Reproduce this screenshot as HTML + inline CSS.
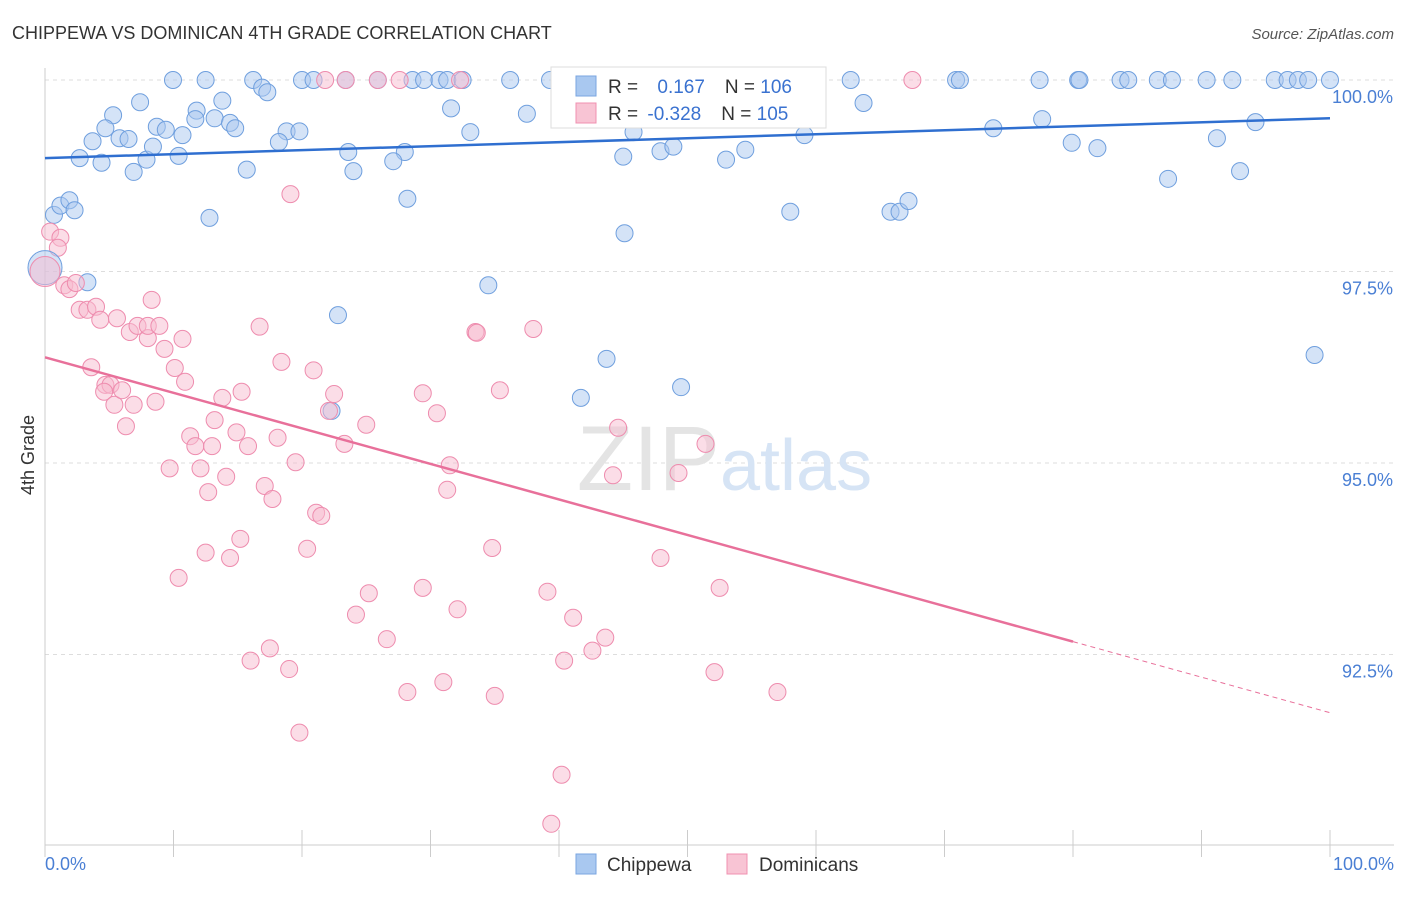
<!DOCTYPE html>
<html><head><meta charset="utf-8"><style>
body{margin:0;background:#fff;font-family:"Liberation Sans",sans-serif}
svg text{font-family:"Liberation Sans",sans-serif}
</style></head><body>
<svg id="chart" width="1406" height="892" viewBox="0 0 1406 892">
<text x="12" y="39" font-size="18" fill="#333">CHIPPEWA VS DOMINICAN 4TH GRADE CORRELATION CHART</text>
<text x="1394" y="39" font-size="15" fill="#555" text-anchor="end" font-style="italic">Source: ZipAtlas.com</text>
<g id="grid"></g>
<text x="720" y="490" font-size="92" fill="#e4e4e4" text-anchor="end" font-family="Liberation Serif">ZIP</text>
<text x="720" y="490" font-size="72" fill="#d6e4f5">atlas</text>
<g id="axes"></g>
<g id="pts"></g>
<g id="lines"></g>
<text transform="translate(34,455) rotate(-90)" font-size="18" fill="#333" text-anchor="middle">4th Grade</text>
<text x="45" y="870" font-size="18" fill="#4a7fd4">0.0%</text>
<text x="1394" y="870" font-size="18" fill="#4a7fd4" text-anchor="end">100.0%</text>
<g>
<rect x="551" y="67" width="275" height="61" fill="#fff" stroke="#ddd"/>
<rect x="576" y="76" width="20" height="20" fill="#a9c8f0" stroke="#7aa6e0"/>
<rect x="576" y="103" width="20" height="20" fill="#f8c4d4" stroke="#f090b0"/>
<text x="608" y="93" font-size="19" fill="#333">R = <tspan fill="#3a72d0" dx="14">0.167</tspan><tspan fill="#333" dx="20">N = </tspan><tspan fill="#3a72d0">106</tspan></text>
<text x="608" y="120" font-size="19" fill="#333">R = <tspan fill="#3a72d0" dx="4">-0.328</tspan><tspan fill="#333" dx="20">N = </tspan><tspan fill="#3a72d0">105</tspan></text>
</g>
<g>
<rect x="576" y="854" width="20" height="20" fill="#a9c8f0" stroke="#7aa6e0"/>
<text x="607" y="871" font-size="19" fill="#333">Chippewa</text>
<rect x="727" y="854" width="20" height="20" fill="#f8c4d4" stroke="#f090b0"/>
<text x="759" y="871" font-size="19" fill="#333">Dominicans</text>
</g>
</svg>
<script>
const yTicks=[100,97.5,95,92.5];
const yTickLabels=["100.0%","97.5%","95.0%","92.5%"];
const xTicks=[0,10,20,30,40,50,60,70,80,90,100];
const blueX=[9.96,12.5,16.2,20.0,20.9,23.4,25.9,28.6,29.5,30.7,31.3,32.5,36.2,39.3,46.4,50.0,62.7,70.9,71.2,77.4,80.4,80.5,83.7,84.3,86.6,87.7,90.4,92.4,95.7,96.7,97.5,98.3,100,
16.9,17.3,7.4,13.8,11.8,31.6,37.5,63.7,5.3,4.7,8.7,9.4,13.2,14.4,14.8,11.7,3.7,5.8,6.5,10.7,18.8,19.8,33.1,45.8,59.1,73.8,77.6,94.2,91.2,18.2,79.9,81.9,2.7,4.4,7.9,10.4,8.4,23.6,28.0,27.1,47.9,48.9,54.5,45.0,53.0,6.9,15.7,24.0,87.4,93.0,0.7,1.2,1.9,2.3,28.2,12.8,58.0,65.8,66.5,67.2,45.1,3.3,34.5,22.8,43.7,98.8,49.5,41.7,22.3];
const blueY=[100,100,100,100,100,100,100,100,100,100,100,100,100,100,100,100,100,100,100,100,100,100,100,100,100,100,100,100,100,100,100,100,100,
99.90,99.84,99.71,99.73,99.60,99.63,99.56,99.70,99.54,99.37,99.39,99.35,99.50,99.44,99.37,99.49,99.20,99.24,99.23,99.28,99.33,99.33,99.32,99.32,99.28,99.37,99.49,99.45,99.24,99.19,99.18,99.11,98.98,98.92,98.96,99.01,99.13,99.06,99.06,98.94,99.07,99.13,99.09,99.00,98.96,98.80,98.83,98.81,98.71,98.81,98.24,98.36,98.43,98.30,98.45,98.20,98.28,98.28,98.28,98.42,98.00,97.36,97.32,96.93,96.36,96.41,95.99,95.85,95.68];
const pinkX=[21.8,23.4,25.9,27.6,32.3,50.0,67.5,0.4,1.2,1.0,19.1,1.5,1.9,2.4,2.7,3.3,3.97,4.3,5.6,6.6,7.2,8.0,8.0,8.3,8.9,9.3,10.7,16.7,18.4,20.9,3.6,4.7,5.1,4.6,5.4,6.0,6.9,6.3,8.6,10.1,10.9,13.8,15.3,13.2,14.9,11.3,11.7,13.0,15.8,18.1,9.7,12.1,14.1,12.7,17.1,17.7,19.5,22.5,22.1,23.3,25.0,29.4,30.5,33.5,33.6,38.0,35.4,31.5,31.3,44.6,44.2,49.3,51.4,21.1,21.5,15.2,12.5,14.4,20.4,10.4,34.8,47.9,25.2,29.4,24.2,32.1,39.1,41.1,52.5,26.6,43.6,17.5,42.6,16.0,40.4,19.0,52.1,31.0,28.2,35.0,57.0,19.8,40.2,39.4];
const pinkY=[100,100,100,100,100,100,100,98.02,97.94,97.81,98.51,97.32,97.27,97.35,97.0,97.0,97.04,96.87,96.89,96.71,96.79,96.63,96.79,97.13,96.79,96.49,96.62,96.78,96.32,96.21,96.25,96.02,96.02,95.93,95.76,95.95,95.76,95.48,95.80,96.24,96.06,95.85,95.93,95.56,95.40,95.35,95.22,95.22,95.22,95.33,94.93,94.93,94.82,94.62,94.70,94.53,95.01,95.90,95.68,95.25,95.50,95.91,95.65,96.71,96.70,96.75,95.95,94.97,94.65,95.46,94.84,94.87,95.25,94.35,94.31,94.01,93.83,93.76,93.88,93.50,93.89,93.76,93.30,93.37,93.02,93.09,93.32,92.98,93.37,92.70,92.72,92.58,92.55,92.42,92.42,92.31,92.27,92.14,92.01,91.96,92.01,91.48,90.93,90.29];
const blueTrend=[98.98,99.50];
const pinkTrend=[96.38,91.74];
const pinkSolidEnd=80;
const NS="http://www.w3.org/2000/svg";
const X=v=>45+v*12.85, Y=v=>80+(100-v)*76.6;
function mk(t,a,p){const e=document.createElementNS(NS,t);for(const k in a)e.setAttribute(k,a[k]);p.appendChild(e);return e;}
const grid=document.getElementById('grid'),axes=document.getElementById('axes'),pts=document.getElementById('pts'),lines=document.getElementById('lines');
yTicks.forEach((t,i)=>{
 const l=mk('line',{x1:45,x2:1394,y1:Y(t),y2:Y(t),stroke:'#ddd','stroke-dasharray':'4,4'},grid);
 
 
 const tx=mk('text',{x:1393,y:Y(t)+23,'font-size':18,fill:'#4a7fd4','text-anchor':'end'},axes);
 tx.textContent=yTickLabels[i];
 
 
});
const ax=mk('line',{x1:45,x2:1394,y1:845,y2:845,stroke:'#ccc'},axes);


const ay=mk('line',{x1:45,x2:45,y1:68,y2:845,stroke:'#ccc'},axes);


xTicks.forEach(t=>{
 const l=mk('line',{x1:X(t),x2:X(t),y1:830,y2:857,stroke:'#ccc'},axes);
 
 
});
function dots(xs,ys,fill,stroke,name){
 xs.forEach((x,i)=>{
  const c=mk('circle',{cx:X(x),cy:Y(ys[i]),r:8.5,fill:fill,'fill-opacity':0.5,stroke:stroke,'stroke-width':1},pts);
  
  
 });
}
dots(blueX,blueY,'#a9c8f0','#6f9fde','chippewa-point');
dots(pinkX,pinkY,'#f8bcd0','#ee8cae','dominicans-point');
const bigB=mk('circle',{cx:X(0),cy:Y(97.55),r:17,fill:'#a9c8f0','fill-opacity':0.5,stroke:'#6f9fde'},pts);


const bigP=mk('circle',{cx:X(0),cy:Y(97.5),r:15,fill:'#f8bcd0','fill-opacity':0.5,stroke:'#ee8cae'},pts);


const bl=mk('line',{x1:X(0),y1:Y(blueTrend[0]),x2:X(100),y2:Y(blueTrend[1]),stroke:'#2f6fd0','stroke-width':2.5},lines);


const pm=pinkTrend[0]+(pinkTrend[1]-pinkTrend[0])*pinkSolidEnd/100;
const pl=mk('line',{x1:X(0),y1:Y(pinkTrend[0]),x2:X(pinkSolidEnd),y2:Y(pm),stroke:'#e8709a','stroke-width':2.5},lines);


const pd=mk('line',{x1:X(pinkSolidEnd),y1:Y(pm),x2:X(100),y2:Y(pinkTrend[1]),stroke:'#e8709a','stroke-width':1,'stroke-dasharray':'5,4'},lines);


</script>
</body></html>
